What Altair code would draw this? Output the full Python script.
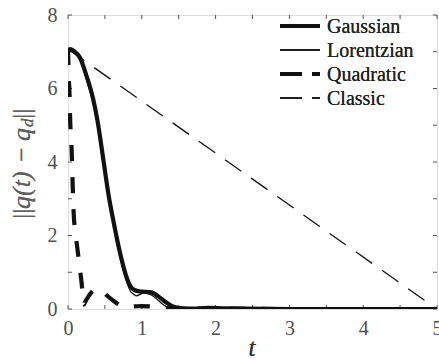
import altair as alt
import pandas as pd

# ---------------- data ----------------
gauss_t = [0, 0.03, 0.08, 0.16, 0.25, 0.34, 0.40, 0.48, 0.55, 0.61, 0.67, 0.73, 0.78, 0.82,
           0.86, 0.91, 0.97, 1.04, 1.10, 1.16, 1.22, 1.29, 1.36, 1.43, 1.50, 1.56, 1.7, 1.9,
           2.1, 2.4, 3, 4, 5]
gauss_v = [7.04, 7.07, 7.02, 6.85, 6.35, 5.72, 5.12, 4.05, 3.1, 2.45, 1.85, 1.32, 0.95, 0.72,
           0.58, 0.51, 0.48, 0.47, 0.46, 0.43, 0.35, 0.24, 0.14, 0.06, 0.03, 0.02, 0.01, 0.03,
           0.02, 0.01, 0.0, 0.0, 0.0]

lor_t = [0, 0.03, 0.08, 0.16, 0.25, 0.34, 0.40, 0.48, 0.55, 0.61, 0.67, 0.73, 0.78, 0.82,
         0.85, 0.885, 0.93, 0.98, 1.02, 1.08, 1.13, 1.20, 1.27, 1.33, 1.38, 1.45, 1.6, 1.9,
         2.2, 3, 5]
lor_v = [7.04, 7.07, 7.0, 6.78, 6.25, 5.6, 5.0, 3.92, 2.97, 2.32, 1.72, 1.2, 0.84, 0.6,
         0.47, 0.41, 0.36, 0.40, 0.43, 0.42, 0.38, 0.28, 0.15, 0.07, 0.03, 0.01, 0.01, 0.02,
         0.01, 0, 0]

quad_t = [0, 0.004, 0.01, 0.018, 0.03, 0.05, 0.063, 0.077, 0.1, 0.13, 0.16, 0.185, 0.2, 0.215,
          0.23, 0.28, 0.34, 0.4, 0.46, 0.52, 0.6, 0.7, 0.8, 0.9, 1.0, 1.1, 1.2, 1.35, 1.5, 2,
          3, 4, 5]
quad_v = [7.07, 6.8, 6.3, 6.0, 5.1, 4.3, 3.4, 2.6, 2.1, 1.6, 1.1, 0.7, 0.35, 0.12,
          0.18, 0.35, 0.5, 0.55, 0.5, 0.38, 0.25, 0.11, 0.06, 0.07, 0.08, 0.07, 0.04, 0.02, 0.01, 0.01,
          0, 0, 0]

classic_t = [0, 5]
classic_v = [7.07, 0.0]

series_names = ["Gaussian", "Lorentzian", "Quadratic", "Classic"]
x_ticks = [0, 0.5, 1, 1.5, 2, 2.5, 3, 3.5, 4, 4.5, 5]
x_labels = [0, 1, 2, 3, 4, 5]
y_ticks = [0, 1, 2, 3, 4, 5, 6, 7, 8]
y_labels = [0, 2, 4, 6, 8]

# ---------------- layout / style ----------------
W, H = 369, 294
FONT = "Liberation Serif"
AXC = "#555555"

xs = alt.Scale(domain=[0, 5], nice=False, zero=False)
ys = alt.Scale(domain=[0, 8], nice=False, zero=False)

styles = {
    "Gaussian": dict(strokeWidth=4.2),
    "Lorentzian": dict(strokeWidth=1.3),
    "Quadratic": dict(strokeWidth=4.2, strokeDash=[16, 16]),
    "Classic": dict(strokeWidth=1.3, strokeDash=[20, 12]),
}
interp = {"Gaussian": "monotone", "Lorentzian": "monotone", "Quadratic": "monotone",
          "Classic": "linear"}
legend_dash = {"Quadratic": [22, 10], "Classic": [22, 10]}
data_map = {
    "Gaussian": (gauss_t, gauss_v),
    "Lorentzian": (lor_t, lor_v),
    "Quadratic": (quad_t, quad_v),
    "Classic": (classic_t, classic_v),
}

X_AX = alt.Axis(values=x_labels, format="d", ticks=False, tickSize=0, domain=False,
                grid=False, labelPadding=9, labelFont=FONT, labelFontSize=20,
                labelColor="#505050", labelOverlap=False, labelBound=False, labelFlush=False)
Y_AX = alt.Axis(values=y_labels, format="d", ticks=False, tickSize=0, domain=False,
                grid=False, labelPadding=11, labelFont=FONT, labelFontSize=20,
                labelColor="#505050", labelOverlap=False, labelBound=False, labelFlush=False)

layers = []
axis_df = pd.DataFrame({"t": [0, 5], "v": [0, 8]})

# inward ticks on all four sides
xt_df = pd.DataFrame({"t": x_ticks})
yt_df = pd.DataFrame({"v": y_ticks})
for y0, y1 in [(H, H - 4), (0, 4)]:
    layers.append(alt.Chart(xt_df).mark_rule(color=AXC, strokeWidth=1).encode(
        x=alt.X("t:Q", scale=xs, title=None, axis=X_AX), y=alt.value(y0), y2=alt.value(y1)))
for x0, x1 in [(0, 4), (W, W - 4)]:
    layers.append(alt.Chart(yt_df).mark_rule(color=AXC, strokeWidth=1).encode(
        y=alt.Y("v:Q", scale=ys, title=None, axis=Y_AX), x=alt.value(x0), x2=alt.value(x1)))

# curves
for name in ["Classic", "Lorentzian", "Gaussian", "Quadratic"]:
    tt, vv = data_map[name]
    df = pd.DataFrame({"t": tt, "v": vv})
    layers.append(alt.Chart(df).mark_line(color="#111111", clip=True, strokeCap="butt",
                                          strokeJoin="round", interpolate=interp[name],
                                          **styles[name]).encode(
        x=alt.X("t:Q", scale=xs, title=None, axis=X_AX),
        y=alt.Y("v:Q", scale=ys, title=None, axis=Y_AX),
    ))

# legend (manual)
row_y = [11, 35, 59, 83]
for name, ry in zip(series_names, row_y):
    kw = dict(strokeWidth=styles[name]["strokeWidth"], color="#111111", strokeCap="butt")
    if name in legend_dash:
        kw["strokeDash"] = legend_dash[name]
    layers.append(alt.Chart(axis_df).mark_rule(**kw).encode(
        x=alt.value(212), x2=alt.value(252), y=alt.value(ry)))
    layers.append(alt.Chart(axis_df).mark_text(
        align="left", baseline="middle", font=FONT, fontSize=20, color="#222222").encode(
        x=alt.value(259), y=alt.value(ry + 1), text=alt.value(name)))

# x title
layers.append(alt.Chart(axis_df).mark_text(
    align="center", baseline="alphabetic", font=FONT, fontSize=25, fontStyle="italic",
    color="#333333").encode(x=alt.value(184), y=alt.value(341), text=alt.value("t")))

# y title pieces (rotated, reading bottom to top)
ytitle_pieces = [
    ("||", "normal", 26, -46, 204),
    ("q(t)", "italic", 26, -46, 194),
    ("\u2212", "normal", 26, -46, 147),
    ("q", "italic", 26, -46, 126),
    ("d", "italic", 17, -40, 112),
    ("||", "normal", 26, -46, 104),
]
for txt, fs, size, px, py in ytitle_pieces:
    layers.append(alt.Chart(axis_df).mark_text(
        align="left", baseline="middle", angle=270, font=FONT, fontSize=size, fontStyle=fs,
        color="#606060").encode(x=alt.value(px), y=alt.value(py), text=alt.value(txt)))

chart = alt.layer(*layers).properties(
    width=W, height=H,
    padding={"left": 68, "top": 15, "right": 2, "bottom": 52},
    autosize=alt.AutoSizeParams(type="none"),
).configure_view(stroke=AXC, strokeWidth=1).configure(background="white")

chart.save("out.html", embed_options={"renderer": "svg", "actions": False})
